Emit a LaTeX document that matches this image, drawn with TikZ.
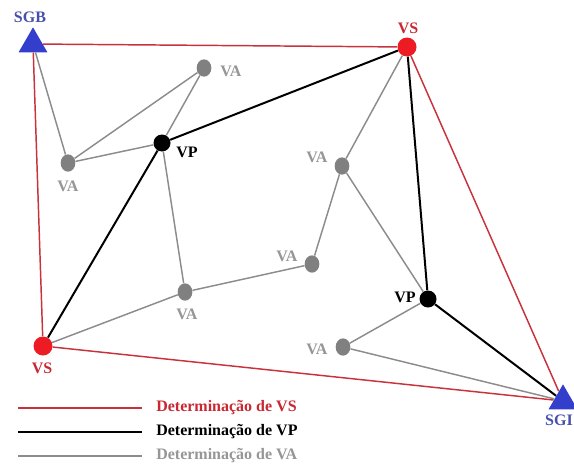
\documentclass[tikz,border=0pt]{standalone}
\usepackage{fontspec}
\setmainfont{Liberation Serif}
\usetikzlibrary{shapes.geometric}
\definecolor{vsred}{RGB}{237,28,36}
\definecolor{linered}{RGB}{200,50,60}
\definecolor{txtred}{RGB}{200,40,50}
\definecolor{triblue}{RGB}{52,62,205}
\definecolor{lblblue}{RGB}{70,80,170}
\definecolor{dotgray}{RGB}{128,128,128}
\definecolor{linegray}{RGB}{140,140,140}
\definecolor{txtgray}{RGB}{150,150,150}
\begin{document}
\begin{tikzpicture}[x=0.75pt,y=-0.75pt,
 vsdot/.style={circle,fill=vsred,minimum size=14.25pt,inner sep=0},
 vpdot/.style={circle,fill=black,minimum size=12.75pt,inner sep=0},
 vadot/.style={ellipse,fill=dotgray,minimum width=11pt,minimum height=13pt,inner sep=0},
 sgtri/.style={regular polygon,regular polygon sides=3,fill=triblue,minimum size=25pt,inner sep=0},
 lbl/.style={font=\bfseries\fontsize{12}{14}\selectfont,inner sep=0},
 redline/.style={draw=linered,line width=1.1pt},
 blackline/.style={draw=black,line width=1.5pt},
 grayline/.style={draw=linegray,line width=1.1pt},
 legline/.style={line width=1.5pt}]
\useasboundingbox (0,0) rectangle (574,464);
% nodes
\node[sgtri] (sgb) at (33,44) {};
\node[sgtri] (sgi) at (563,401) {};
\node[vsdot] (vs1) at (407,47) {};
\node[vsdot] (vs2) at (43,346) {};
\node[vpdot] (vp1) at (162,143) {};
\node[vpdot] (vp2) at (428,299) {};
\node[vadot] (va1) at (204,68) {};
\node[vadot] (va2) at (68,163) {};
\node[vadot] (va3) at (185,292) {};
\node[vadot] (va4) at (312,264) {};
\node[vadot] (va5) at (342,166) {};
\node[vadot] (va6) at (343,347) {};
% labels
\node[lbl,text=lblblue] (tsgb) at (30,17) {SGB};
\node[lbl,text=lblblue,anchor=east] (tsgi) at (573,420) {SGI};
\node[lbl,text=txtred] (tvs1) at (408,28) {VS};
\node[lbl,text=txtred] (tvs2) at (42,368) {VS};
\node[lbl,text=black] (tvp1) at (187,152) {VP};
\node[lbl,text=black] (tvp2) at (405,297) {VP};
\node[lbl,text=txtgray] (tva1) at (231,71) {VA};
\node[lbl,text=txtgray] (tva2) at (68,186) {VA};
\node[lbl,text=txtgray] (tva3) at (187,314) {VA};
\node[lbl,text=txtgray] (tva4) at (287,256) {VA};
\node[lbl,text=txtgray] (tva5) at (317,157) {VA};
\node[lbl,text=txtgray] (tva6) at (317,349) {VA};
% red connectors
\draw[redline] (sgb) -- (vs1);
\draw[redline] (sgb) -- (vs2);
\draw[redline] (vs1) -- (sgi);
\draw[redline] (vs2) -- (sgi);
% black connectors
\draw[blackline] (vs1) -- (vp1);
\draw[blackline] (vp1) -- (vs2);
\draw[blackline] (vs1) -- (vp2);
\draw[blackline] (vp2) -- (sgi);
% gray connectors
\draw[grayline] (sgb) -- (va2);
\draw[grayline] (va2) -- (vp1);
\draw[grayline] (va2) -- (va1);
\draw[grayline] (va1) -- (vp1);
\draw[grayline] (vp1) -- (va3);
\draw[grayline] (va3) -- (vs2);
\draw[grayline] (va3) -- (va4);
\draw[grayline] (va4) -- (va5);
\draw[grayline] (va5) -- (vs1);
\draw[grayline] (va5) -- (vp2);
\draw[grayline] (vp2) -- (va6);
\draw[grayline] (va6) -- (sgi);
% legend
\coordinate (r1) at (18,408); \coordinate (r2) at (142,408);
\coordinate (b1) at (18,432); \coordinate (b2) at (142,432);
\coordinate (g1) at (18,456); \coordinate (g2) at (142,456);
\draw[legline,draw=linered] (r1) -- (r2);
\draw[legline,draw=black] (b1) -- (b2);
\draw[legline,draw=linegray] (g1) -- (g2);
\node[lbl,text=txtred,anchor=west] (lr) at (156,408) {Determinação de VS};
\node[lbl,text=black,anchor=west] (lb) at (156,432) {Determinação de VP};
\node[lbl,text=txtgray,anchor=west] (lg) at (156,456) {Determinação de VA};
\end{tikzpicture}
\end{document}
